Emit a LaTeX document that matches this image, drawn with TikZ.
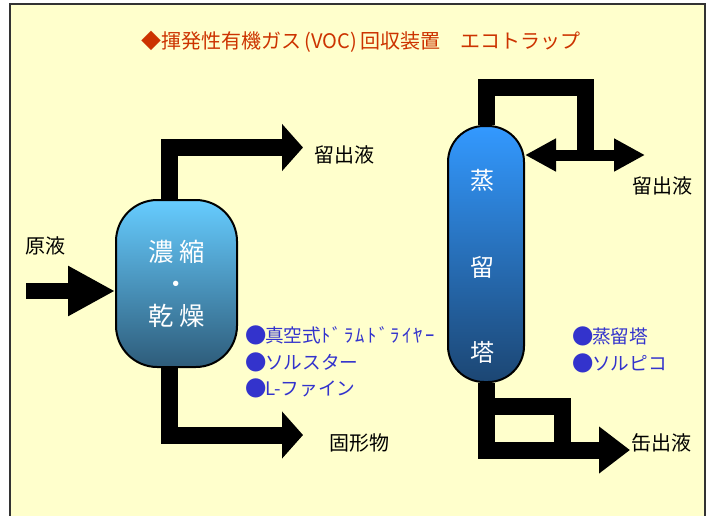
\documentclass[tikz,border=0pt]{standalone}
\usepackage{fontspec}
\setmainfont{Noto Sans CJK JP}
\usetikzlibrary{arrows.meta,calc}

\definecolor{paper}{HTML}{FFFFCC}
\definecolor{titlered}{HTML}{CC3300}
\definecolor{listblue}{HTML}{3333CC}

% large round bullet for the equipment lists
\newcommand\bigdot{\makebox[15pt][l]{\raisebox{-0.6pt}{\fontsize{16pt}{16pt}\selectfont ●}}}

\tikzset{
  vessel/.style={draw=black, line width=1.5pt, align=center, text=white,
    inner sep=0pt},
  pipe/.style={line width=12.75pt},
  label/.style={anchor=west, inner sep=0pt, font=\fontsize{15pt}{18pt}\selectfont},
  item/.style={label, text=listblue, font=\fontsize{14pt}{17pt}\selectfont},
}

\begin{document}
\begin{tikzpicture}[x=0.75pt,y=-0.75pt]
\useasboundingbox (0,0) rectangle (712,515);
\fill[white] (0,0) rectangle (712,515);
\begin{scope}
\clip (0,0) rectangle (712,515);
\draw[line width=1.5pt, draw=black!80, fill=paper] (10,4) rectangle (705,540);
\end{scope}

\node[anchor=center, text=titlered, font=\fontsize{15pt}{18pt}\selectfont]
  (title) at (361,42) {◆揮発性有機ガス\,(VOC)\,回収装置　エコトラップ};

% concentrating / drying vessel
\node[vessel, top color={rgb,255:red,102;green,204;blue,255},
  bottom color={rgb,255:red,46;green,92;blue,122},
  minimum width=90.75pt, minimum height=125.25pt, rounded corners=31pt,
  font=\fontsize{19pt}{24pt}\selectfont]
  (conc) at (176.5,283.5) {濃 縮\\・\\乾 燥};

% distillation column
\node[vessel, top color={rgb,255:red,51;green,153;blue,255},
  bottom color={rgb,255:red,28;green,70;blue,115},
  minimum width=57pt, minimum height=192pt, rounded corners=27pt]
  (col) at (486,254) {};
\foreach \ch/\y [count=\i] in {蒸/180, 留/267, 塔/352}
  \node[text=white, inner sep=0pt, font=\fontsize{18pt}{22pt}\selectfont]
    (ct\i) at (482,\y) {\ch};

% free ends
\coordinate (feed) at (26,291);
\coordinate (distA) at (303,147.5);
\coordinate (solid) at (303,435);
\coordinate (split) at (585,155);
\coordinate (distB) at (645,155);
\coordinate (bottoms) at (630,450);

% left side
\draw[line width=12pt, -{Triangle[length=35.25pt,width=35.25pt]}]
  (feed) -- (feed -| conc.west);
\draw[pipe, -{Triangle[length=15.75pt,width=34.5pt]}]
  ($(conc.north)+(-7,0)$) |- (distA);
\draw[pipe, -{Triangle[length=15.75pt,width=34.5pt]}]
  ($(conc.south)+(-7,0)$) |- (solid);

% right side
\draw[pipe] (col.north) |- (585,87) -- (split);
\draw[line width=8.25pt,
  {Triangle[length=23.25pt,width=23.25pt]}-{Triangle[length=23.25pt,width=23.25pt]}]
  (col.east |- split) -- (distB);
\draw[pipe, -{Triangle[length=23.25pt,width=33.75pt]}]
  (col.south) |- (bottoms);
\draw[pipe] ($(col.south)+(0,23)$) -| (562,450);

% labels
\node[label] (lfeed) at (25,246) {原液};
\node[label] (ldistA) at (314,155) {留出液};
\node[label] (lsolid) at (329,443) {固形物};
\node[label] (ldistB) at (632,186) {留出液};
\node[label] (lbot) at (631,443) {缶出液};

\node[item] (dry1) at (245,335) {\bigdot 真空式{\addfontfeatures{LetterSpace=12}ﾄﾞﾗﾑﾄﾞﾗｲﾔｰ}};
\node[item] (dry2) at (245,362) {\bigdot ソルスター};
\node[item] (dry3) at (245,388) {\bigdot L-ファイン};
\node[item] (dst1) at (572,336) {\bigdot 蒸留塔};
\node[item] (dst2) at (572,363) {\bigdot ソルピコ};

\end{tikzpicture}
\end{document}
